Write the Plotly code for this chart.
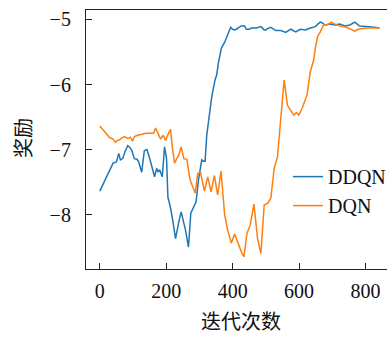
import plotly.graph_objects as go

ddqn_x = [0, 35, 40, 50, 57, 62, 69, 76, 84, 89, 96, 104, 112, 117, 126, 134, 142, 147, 154, 158,
          165, 171, 176, 180, 188, 195, 201, 205, 213, 220, 228, 238, 245, 258, 267, 274, 282, 290,
          297, 307, 312, 317, 322, 330, 337, 347, 352, 357, 366, 376, 386, 394, 400, 406, 411, 421,
          426, 436, 441, 451, 456, 466, 471, 485, 495, 500, 505, 515, 530, 545, 560, 575, 590, 604,
          619, 634, 649, 659, 664, 669, 678, 693, 708, 723, 738, 753, 763, 768, 782, 797, 812, 827, 842]
ddqn_y = [-7.64, -7.24, -7.21, -7.19, -7.06, -7.16, -7.14, -7.03, -6.94, -6.96, -7.01, -7.14, -7.15,
          -7.19, -7.35, -7.02, -7.00, -7.08, -7.21, -7.25, -7.42, -7.29, -7.35, -7.31, -7.42, -6.96,
          -7.14, -7.73, -7.90, -8.10, -8.37, -8.11, -7.96, -8.24, -8.50, -7.98, -7.90, -7.80, -7.47,
          -7.16, -7.18, -7.18, -6.78, -6.47, -6.19, -5.93, -5.85, -5.67, -5.44, -5.35, -5.21, -5.12,
          -5.15, -5.16, -5.15, -5.12, -5.10, -5.10, -5.15, -5.15, -5.13, -5.13, -5.13, -5.11, -5.16,
          -5.16, -5.14, -5.12, -5.17, -5.17, -5.20, -5.15, -5.19, -5.15, -5.16, -5.13, -5.11, -5.06,
          -5.04, -5.05, -5.085, -5.07, -5.085, -5.07, -5.10, -5.085, -5.06, -5.04, -5.10, -5.10,
          -5.11, -5.12, -5.13]

dqn_x = [0, 10, 20, 30, 40, 47, 53, 60, 64, 74, 84, 92, 99, 104, 114, 125, 139, 154, 162, 168,
         175, 183, 191, 198, 206, 213, 218, 225, 233, 238, 245, 253, 262, 272, 287, 295, 303, 315,
         325, 335, 345, 355, 365, 376, 386, 396, 406, 416, 426, 434, 443, 453, 464, 475, 485, 495,
         505, 515, 525, 535, 545, 555, 565, 575, 584, 592, 599, 609, 617, 624, 634, 644, 649, 656,
         664, 674, 685, 698, 703, 713, 728, 743, 758, 768, 778, 792, 802, 842]
dqn_y = [-6.64, -6.70, -6.76, -6.82, -6.84, -6.89, -6.86, -6.85, -6.83, -6.80, -6.83, -6.81, -6.87,
         -6.80, -6.78, -6.77, -6.75, -6.75, -6.75, -6.67, -6.74, -6.84, -6.78, -6.86, -6.76, -6.69,
         -6.95, -7.21, -7.13, -7.08, -6.96, -7.14, -7.15, -7.47, -7.67, -7.37, -7.35, -7.64, -7.42,
         -7.65, -7.40, -7.70, -7.33, -8.01, -8.26, -8.44, -8.30, -8.45, -8.57, -8.65, -8.29, -8.16,
         -7.84, -8.37, -8.60, -7.85, -7.83, -7.75, -7.29, -7.11, -6.55, -5.93, -6.32, -6.39, -6.47,
         -6.43, -6.47, -6.37, -6.24, -6.16, -5.80, -5.62, -5.44, -5.26, -5.19, -5.08, -5.08, -5.04,
         -5.06, -5.08, -5.11, -5.12, -5.16, -5.18, -5.15, -5.14, -5.13, -5.13]

x_ticks = [0, 200, 400, 600, 800]
y_ticks = [-5, -6, -7, -8]

serif = "Liberation Serif"
cjk = "Noto Sans CJK SC"

fig = go.Figure()
fig.add_trace(go.Scatter(x=ddqn_x, y=ddqn_y, mode="lines", name="DDQN",
                         line=dict(color="#1f77b4", width=1.5)))
fig.add_trace(go.Scatter(x=dqn_x, y=dqn_y, mode="lines", name="DQN",
                         line=dict(color="#ff7f0e", width=1.5)))

axis_common = dict(showgrid=False, zeroline=False, showline=True, linecolor="#222",
                   linewidth=1.2, ticks="inside", ticklen=6, tickwidth=1.2, tickcolor="#222",
                   tickfont=dict(family=serif, size=20, color="#111"))

fig.update_layout(
    width=391, height=338,
    margin=dict(l=86, r=0, t=10, b=69),
    plot_bgcolor="white", paper_bgcolor="white",
    xaxis=dict(range=[-41.6, 864.8], tickvals=x_ticks, mirror=True,
               ticklabelstandoff=4, **axis_common),
    yaxis=dict(range=[-8.838, -4.854], tickvals=y_ticks, mirror=False,
               ticklabelstandoff=10, **axis_common),
    legend=dict(x=0.672, y=0.432, xanchor="left", yanchor="top", bgcolor="rgba(0,0,0,0)",
                font=dict(family=serif, size=20, color="#111"), tracegroupgap=0),
    showlegend=True,
    annotations=[
        dict(text="迭代次数", xref="paper", yref="paper", x=0.515, y=-0.198,
             xanchor="center", yanchor="middle", showarrow=False,
             font=dict(family=cjk, size=20, color="#111")),
        dict(text="奖励", xref="paper", yref="paper", x=-0.209, y=0.506,
             xanchor="center", yanchor="middle", showarrow=False, textangle=-90,
             font=dict(family=cjk, size=20, color="#111")),
    ],
)

fig.write_html("out.html")
